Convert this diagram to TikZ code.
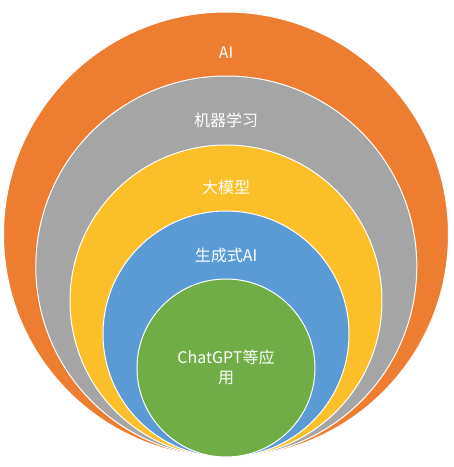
\documentclass[tikz,border=0pt]{standalone}
\usepackage{fontspec}
\setmainfont{Noto Sans CJK SC}
\definecolor{cOrange}{HTML}{ED7D31}
\definecolor{cGray}{HTML}{A5A5A5}
\definecolor{cYellow}{HTML}{FBBF2A}
\definecolor{cBlue}{HTML}{5B9BD5}
\definecolor{cGreen}{HTML}{70AD47}
\tikzset{
  ring/.style={draw=white, line width=1pt},
  lbl/.style={text=white, font=\fontsize{16}{20}\selectfont, align=center, inner sep=0pt}
}
\begin{document}
\begin{tikzpicture}[x=1pt,y=1pt]
\useasboundingbox (0,0) rectangle (454,467);
\fill[white] (0,0) rectangle (454,467);
\draw[ring, fill=cOrange] (226,232.5) circle (222.5);
\draw[ring, fill=cGray] (226.3,200.5) circle (190.5);
\draw[ring, fill=cYellow] (226,166) circle (156);
\draw[ring, fill=cBlue] (226,133) circle (123);
\draw[ring, fill=cGreen] (226,99) circle (89);
\node[lbl] (ai) at (226,414) {AI};
\node[lbl] (ml) at (226,347) {机器学习};
\node[lbl] (lm) at (226,280) {大模型};
\node[lbl] (gen) at (226,212) {生成式AI};
\node[lbl] (app) at (226,100) {ChatGPT等应\\用};
\end{tikzpicture}
\end{document}
